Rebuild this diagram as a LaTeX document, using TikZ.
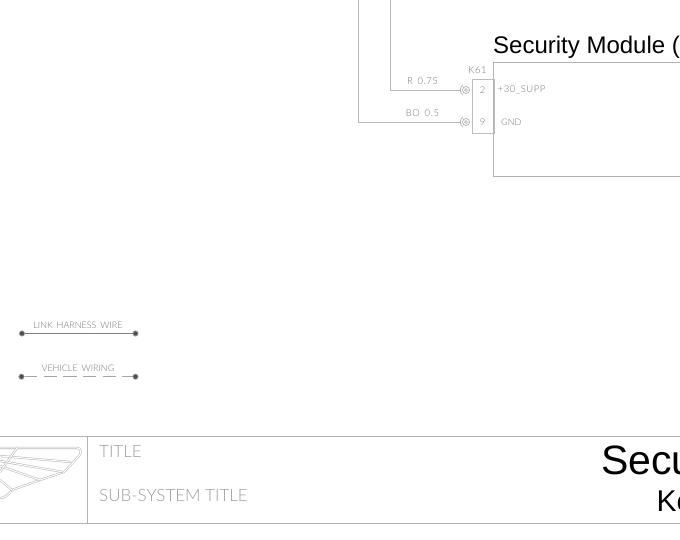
\documentclass[tikz,border=0pt]{standalone}
\usepackage{fontspec}
\setmainfont{Liberation Sans}
\newfontfamily\cadfont[LetterSpace=6]{Lato Light}
\newfontfamily\cadtight{Lato Light}
\begin{document}
\begin{tikzpicture}[x=1pt,y=1pt,
  wire/.style={draw=black!28,line width=0.8pt},
  frameln/.style={draw=black!30,line width=0.8pt},
  cadtxt/.style={inner sep=0pt,text=black!55,font=\cadfont\fontsize{9.5}{9.5}\selectfont},
  cadlegend/.style={inner sep=0pt,text=black!55,font=\cadtight\fontsize{9}{9}\selectfont},
  cadhead/.style={inner sep=0pt,anchor=base west,text=black!38,font=\cadtight\fontsize{17}{17}\selectfont},
  dot/.style={circle,draw=black!40,fill=black!70,minimum size=5.2pt,inner sep=0pt,line width=0.8pt},
  pinring/.style={circle,draw=black!35,line width=0.6pt,minimum size=7pt,inner sep=0pt},
  pincore/.style={circle,draw=black!35,line width=0.6pt,minimum size=3pt,inner sep=0pt},
  feather/.style={draw=black!28,double=white,line width=0.55pt,double distance=1pt},
  bigtxt/.style={inner sep=0pt,text=black}]
\useasboundingbox (0,0) rectangle (680,540);
\clip (0,0) rectangle (680,540);
\fill[white] (0,0) rectangle (680,540);
% module
\draw[frameln] (680,477.5) -- (493.5,477.5) -- (493.5,363.5) -- (680,363.5);
\node[bigtxt,anchor=base west,font=\fontsize{24}{24}\selectfont] (modtitle) at (493,486) {Security Module (};
% connector
\node[draw=black!26,line width=0.8pt,minimum width=21.5pt,minimum height=54pt,inner sep=0pt,anchor=north west] (k61) at (472,461) {};
\node[cadtxt] (k61lab) at (477.5,470) {K61};
\node[cadtxt] (p2) at (482.5,450) {2};
\node[cadtxt] (p9) at (482.5,418) {9};
\node[cadtxt,anchor=west] (s1) at (497.5,450) {+30\_SUPP};
\node[cadlegend,anchor=west] (s2) at (501,418) {GND};
% pins
\node[pinring] (pa) at (466,450) {};
\node[pincore] at (466,450) {};
\node[pinring] (pb) at (466,418) {};
\node[pincore] at (466,418) {};
\draw[wire] (463.2,455) arc (120:240:5.8);
\draw[wire] (463.2,423) arc (120:240:5.8);
% wires
\coordinate (wa) at (390.5,540);
\coordinate (wb) at (358.5,540);
\draw[wire] (wa) -- (390.5,450) -- (460.3,450);
\draw[wire] (wb) -- (358.5,418) -- (460.3,418);
\node[cadtxt] (l1) at (422.5,459) {R\, 0.75};
\node[cadtxt] (l2) at (422.5,426.5) {BO\, 0.5};
% legend
\node[dot] (a1) at (22,206.5) {};
\node[dot] (a2) at (135.5,206.5) {};
\draw[draw=black!50,line width=0.8pt] (a1) -- (a2);
\node[cadlegend] (t1) at (78,215) {LINK\, HARNESS\, WIRE};
\node[dot] (b1) at (21.5,163.3) {};
\node[dot] (b2) at (135.5,163.3) {};
\draw[draw=black!35,line width=0.7pt,dash pattern=on 13.5pt off 6.2pt,dash phase=0.7pt] (b1) -- (b2);
\node[cadlegend] (t2) at (78,171.5) {VEHICLE\, WIRING};
% title block
\draw[frameln] (0,103.5) -- (680,103.5);
\draw[frameln] (0,17) -- (680,17);
\draw[frameln] (87.5,103.5) -- (87.5,17);
\node[cadhead] (tt) at (99,82) {TITLE};
\node[cadhead] (st) at (99,38) {SUB-SYSTEM TITLE};
\node[bigtxt,anchor=base west,font=\fontsize{41}{41}\selectfont] (big1) at (601,65.5) {Secu};
\node[bigtxt,anchor=base west,font=\fontsize{30}{30}\selectfont] (big2) at (656.5,28) {Ke};
% wing
\draw[feather] (0,92) -- (77,92) .. controls (81.5,92) and (81.5,87) .. (79,84) -- (64,68) -- (40,60) -- (12,50) .. controls (8,44) and (3,42) .. (0,42);
\draw[feather] (0,84) -- (71,78);
\draw[feather] (0,79) -- (63,68);
\draw[feather] (0,74) -- (40,60);
\draw[feather] (17,92) -- (0,68);
\draw[feather] (12,50) -- (0,60);
\end{tikzpicture}
\end{document}
